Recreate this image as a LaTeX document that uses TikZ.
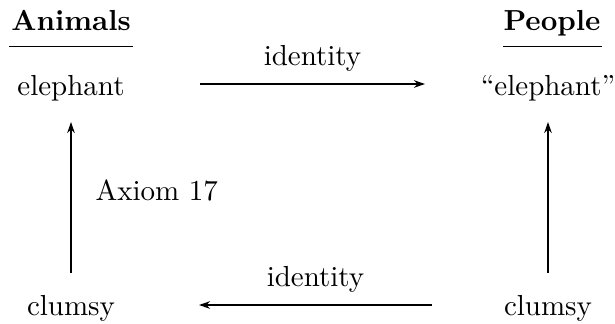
\documentclass[tikz,border=0pt]{standalone}
\usetikzlibrary{arrows.meta}
\begin{document}
\begin{tikzpicture}[x=0.345pt,y=-0.345pt,
  lbl/.style={anchor=base,inner sep=0pt,font=\fontsize{10}{12}\selectfont},
  head/.style={lbl,font=\fontsize{10}{12}\selectfont\bfseries},
  arr/.style={line width=0.55pt,-{Stealth[length=3.8pt,width=2.6pt]}}]
\useasboundingbox (0,0) rectangle (615,323);
\node[head] (animals) at (71,30) {Animals};
\node[head] (people) at (552,30) {People};
\draw[line width=0.55pt] (9,46.5) coordinate (ua1) -- (133,46.5) coordinate (ua2);
\draw[line width=0.55pt] (503,46.5) coordinate (up1) -- (602,46.5) coordinate (up2);
\node[lbl] (eA) at (71,95) {elephant};
\node[lbl] (eP) at (548,95) {``elephant''};
\node[lbl] (cA) at (71,315) {clumsy};
\node[lbl] (cP) at (548,315) {clumsy};
\coordinate (t1) at (200,84);
\coordinate (t2) at (425,84);
\coordinate (b1) at (432,305);
\coordinate (b2) at (199,305);
\coordinate (l1) at (71,273);
\coordinate (l2) at (71,122);
\coordinate (r1) at (548,273);
\coordinate (r2) at (548,122);
\draw[arr] (t1) -- node[lbl,above=4.2pt] (id1) {identity} (t2);
\draw[arr] (b1) -- node[lbl,above=4.2pt] (id2) {identity} (b2);
\draw[arr] (l1) -- (l2);
\draw[arr] (r1) -- (r2);
\node[lbl,anchor=base west] (ax) at (95,200) {Axiom 17};
\end{tikzpicture}
\end{document}
